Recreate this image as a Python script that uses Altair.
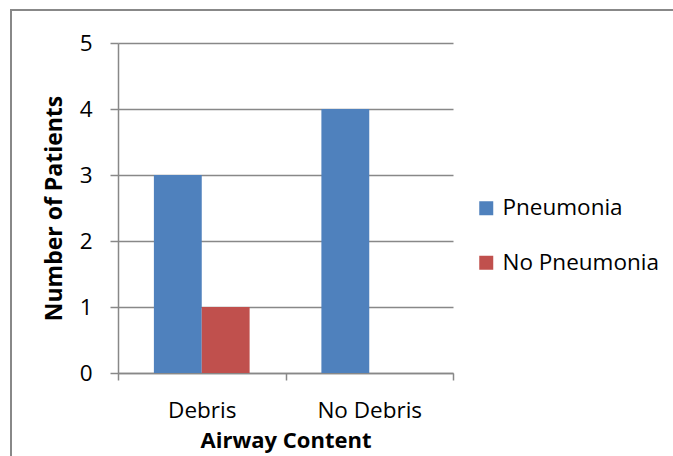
import altair as alt
import pandas as pd

# Patient counts by airway content and outcome
airway = ["Debris", "Debris", "No Debris", "No Debris"]
outcome = ["Pneumonia", "No Pneumonia", "Pneumonia", "No Pneumonia"]
patients = [3, 1, 4, 0]

categories = ["Debris", "No Debris"]
series = ["Pneumonia", "No Pneumonia"]
series_colors = ["#4F81BD", "#C0504D"]
y_ticks = [0, 1, 2, 3, 4, 5]

df = pd.DataFrame({"airway": airway, "outcome": outcome, "patients": patients})

FONT = "Open Sans"
GRAY = "#888888"

bars = alt.Chart(df).mark_bar().encode(
    x=alt.X(
        "airway:N",
        sort=categories,
        scale=alt.Scale(paddingInner=0, paddingOuter=0),
        axis=alt.Axis(
            title="Airway Content",
            labelAngle=0,
            tickBand="extent",
            tickSize=7,
            tickColor=GRAY,
            tickWidth=1.5,
            domainColor=GRAY,
            domainWidth=1.5,
            labelFont=FONT,
            labelFontSize=22.5,
            labelColor="#000000",
            labelPadding=19,
            titleFont=FONT,
            titleFontSize=22,
            titleFontWeight="bold",
            titleColor="#000000",
            titlePadding=9,
            grid=False,
        ),
    ),
    xOffset=alt.XOffset(
        "outcome:N",
        sort=series,
        scale=alt.Scale(paddingInner=0, paddingOuter=0.75),
    ),
    y=alt.Y(
        "patients:Q",
        scale=alt.Scale(domain=[0, 5], nice=False),
        axis=alt.Axis(
            title="Number of Patients",
            values=y_ticks,
            format="d",
            tickSize=8,
            tickColor=GRAY,
            tickWidth=1.5,
            domainColor=GRAY,
            domainWidth=1.5,
            gridColor=GRAY,
            gridWidth=1.5,
            labelFont=FONT,
            labelFontSize=22.5,
            labelColor="#000000",
            labelPadding=18,
            titleFont=FONT,
            titleFontSize=23,
            titleFontWeight="bold",
            titleColor="#000000",
            titlePadding=13,
        ),
    ),
    color=alt.Color(
        "outcome:N",
        sort=series,
        scale=alt.Scale(domain=series, range=series_colors),
        legend=alt.Legend(
            title=None,
            orient="none",
            legendX=357,
            legendY=154,
            symbolType="square",
            symbolSize=196,
            symbolStrokeWidth=0,
            labelFont=FONT,
            labelFontSize=22.5,
            labelColor="#000000",
            labelOffset=5,
            rowPadding=31.5,
        ),
    ),
)

# Outer chart frame
frame = alt.Chart(pd.DataFrame({"f": [0]})).mark_rect(
    fill=None, stroke=GRAY, strokeWidth=2
).encode(
    x=alt.value(-107), x2=alt.value(570),
    y=alt.value(-33), y2=alt.value(430),
)

chart = alt.layer(frame, bars).properties(
    width=335,
    height=330,
    autosize="none",
    padding={"left": 118, "top": 43, "right": 220, "bottom": 83},
    background="#ffffff",
).configure_view(stroke=None)

chart.save("out.html", embed_options={"renderer": "svg", "actions": False})
